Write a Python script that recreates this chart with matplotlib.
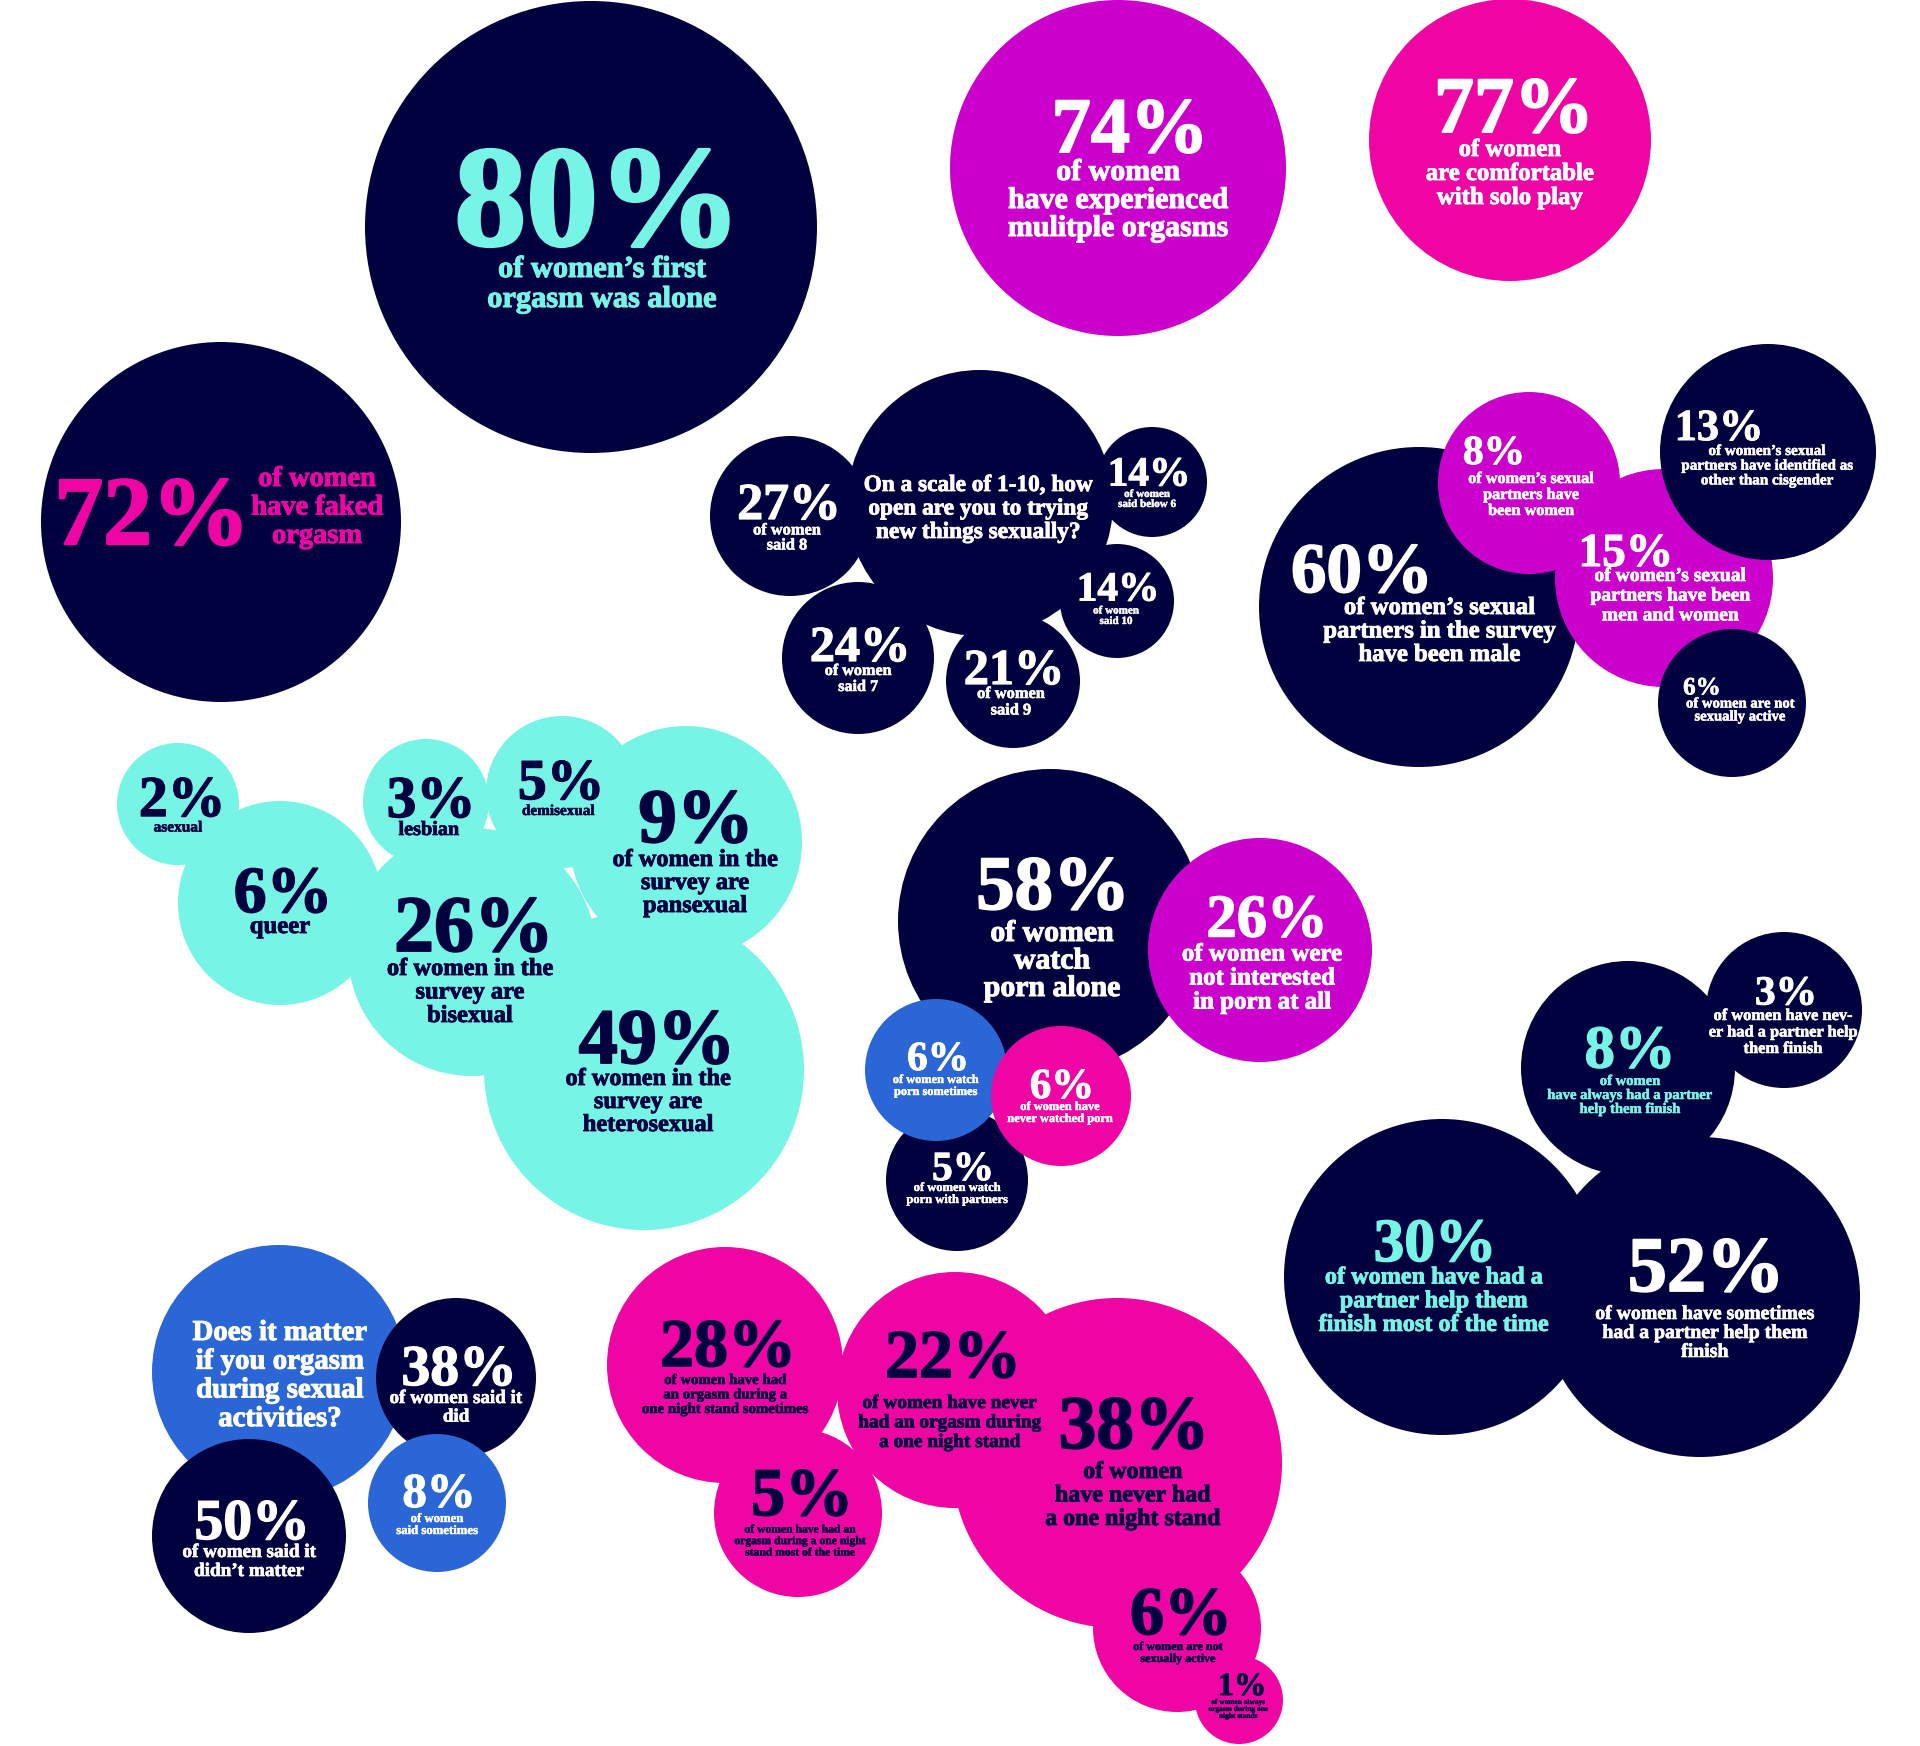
import matplotlib
matplotlib.use("Agg")
import matplotlib.pyplot as plt
import matplotlib.patheffects as pe
from matplotlib.patches import Circle

# ---------------- DATA ----------------
values = [
    "80%", "74%", "77%", "72%",
    "", "27%", "14%", "14%", "24%", "21%",
    "60%", "8%", "15%", "13%", "6%",
    "2%", "6%", "3%", "5%", "9%", "26%", "49%",
    "58%", "26%", "5%", "6%", "6%",
    "3%", "8%", "30%", "52%",
    "", "38%", "8%", "50%",
    "28%", "22%", "38%", "5%", "6%", "1%",
]

labels = [
    "of women\u2019s first\norgasm was alone",
    "of women\nhave experienced\nmulitple orgasms",
    "of women\nare comfortable\nwith solo play",
    "of women\nhave faked\norgasm",
    "On a scale of 1-10, how\nopen are you to trying\nnew things sexually?",
    "of women\nsaid 8",
    "of women\nsaid below 6",
    "of women\nsaid 10",
    "of women\nsaid 7",
    "of women\nsaid 9",
    "of women\u2019s sexual\npartners in the survey\nhave been male",
    "of women\u2019s sexual\npartners have\nbeen women",
    "of women\u2019s sexual\npartners have been\nmen and women",
    "of women\u2019s sexual\npartners have identified as\nother than cisgender",
    "of women are not\nsexually active",
    "asexual",
    "queer",
    "lesbian",
    "demisexual",
    "of women in the\nsurvey are\npansexual",
    "of women in the\nsurvey are\nbisexual",
    "of women in the\nsurvey are\nheterosexual",
    "of women\nwatch\nporn alone",
    "of women were\nnot interested\nin porn at all",
    "of women watch\nporn with partners",
    "of women watch\nporn sometimes",
    "of women have\nnever watched porn",
    "of women have nev-\ner had a partner help\nthem finish",
    "of women\nhave always had a partner\nhelp them finish",
    "of women have had a\npartner help them\nfinish most of the time",
    "of women have sometimes\nhad a partner help them\nfinish",
    "Does it matter\nif you orgasm\nduring sexual\nactivities?",
    "of women said it\ndid",
    "of women\nsaid sometimes",
    "of women said it\ndidn\u2019t matter",
    "of women have had\nan orgasm during a\none night stand sometimes",
    "of women have never\nhad an orgasm during\na one night stand",
    "of women\nhave never had\na one night stand",
    "of women have had an\norgasm during a one night\nstand most of the time",
    "of women are not\nsexually active",
    "of women always\norgasm during one\nnight stands",
]

# ---------------- COLOURS ----------------
NAVY = "#01013f"
CYAN = "#76f5e6"
MAGENTA = "#cc00cc"
PINK = "#ee05a3"
BLUE = "#2a66d6"
WHITE = "#ffffff"

fills = [
    NAVY, MAGENTA, PINK, NAVY,
    NAVY, NAVY, NAVY, NAVY, NAVY, NAVY,
    NAVY, MAGENTA, MAGENTA, NAVY, NAVY,
    CYAN, CYAN, CYAN, CYAN, CYAN, CYAN, CYAN,
    NAVY, MAGENTA, NAVY, BLUE, PINK,
    NAVY, NAVY, NAVY, NAVY,
    BLUE, NAVY, BLUE, NAVY,
    PINK, PINK, PINK, PINK, PINK, PINK,
]
inks = [
    CYAN, WHITE, WHITE, PINK,
    WHITE, WHITE, WHITE, WHITE, WHITE, WHITE,
    WHITE, WHITE, WHITE, WHITE, WHITE,
    NAVY, NAVY, NAVY, NAVY, NAVY, NAVY, NAVY,
    WHITE, WHITE, WHITE, WHITE, WHITE,
    WHITE, CYAN, CYAN, WHITE,
    WHITE, WHITE, WHITE, WHITE,
    NAVY, NAVY, NAVY, NAVY, NAVY, NAVY,
]

# ---------------- LAYOUT (pixels, y down) ----------------
# circle x, y, r | number x, baseline, digit height | label x, first baseline, line step, widest line
layout = [
    (591, 227, 226, 598, 245, 97, 602, 277, 30, 230),
    (1118, 168, 168, 1130, 152, 53, 1118, 180, 28, 222),
    (1510, 140, 141, 1514, 132, 54, 1510, 156, 24, 169),
    (221, 522, 180, 152, 544, 66, 317, 486, 28.5, 133),
    (980, 503, 133, 0, 0, 0, 978, 491, 23.5, 229),
    (790, 516, 80, 789, 519, 35, 787, 534.5, 15, 68),
    (1152, 482, 55, 1149, 485.5, 28, 1147, 497, 10, 58),
    (1117, 601, 57, 1118, 600.5, 28, 1116, 613.5, 10.5, 46),
    (858, 658, 76, 860, 661, 34, 858, 675, 16, 67),
    (1013, 681, 67, 1014, 684, 34, 1011, 698, 16.5, 68),
    (1419, 607, 160, 1362, 592, 48, 1439, 614, 23.5, 234),
    (1529, 483, 91, 1494, 464, 28, 1531, 483, 16, 126),
    (1664, 578, 109, 1626, 566, 32, 1670, 581, 19.7, 161),
    (1768, 452, 108, 1719, 440, 30, 1767, 455, 14.7, 173),
    (1732, 703, 74, 1702, 694.5, 17, 1740, 707.5, 13, 109),
    (178, 804, 61, 182, 816, 39, 178, 831.5, 0, 49),
    (280, 903, 102, 283, 912, 44.5, 280, 933, 0, 61),
    (426, 802, 63, 431, 817, 40, 429, 835, 0, 61),
    (562, 792, 76, 561, 799, 39, 558, 815, 0, 73),
    (686, 842, 116, 696, 842, 52, 695, 866, 23, 166),
    (472, 952, 124, 474, 951, 54, 470, 975, 23.5, 167),
    (644, 1070, 160, 657, 1063, 53, 648, 1085, 23, 166),
    (1050, 921, 152, 1053, 909, 52, 1052, 941, 27.5, 137),
    (1260, 950, 112, 1267, 936.5, 41, 1262, 960.6, 24, 161),
    (957, 1180, 71, 963, 1180, 28, 957, 1191, 12, 102),
    (936, 1070, 71, 938, 1070, 28, 936, 1083, 12, 86),
    (1061, 1096, 70, 1062, 1098, 29, 1060, 1110, 12, 106),
    (1784, 1010, 78, 1786, 1004.5, 28, 1783, 1020, 16.5, 150),
    (1628, 1068, 107, 1630, 1067.5, 41, 1630, 1085, 14, 166),
    (1442, 1277, 158, 1435, 1261, 41.5, 1434, 1283.5, 23.7, 231),
    (1700, 1297, 160, 1706, 1291, 53, 1705, 1319, 19, 220),
    (279, 1372, 127, 0, 0, 0, 280, 1340, 28.7, 175),
    (456, 1378, 80, 459, 1385, 39, 456, 1403, 18.6, 133),
    (437, 1503, 69, 439, 1507, 33, 437, 1522, 12, 82),
    (249, 1536, 97, 252, 1539, 39, 249, 1557, 19, 134),
    (725, 1365, 118, 728, 1366, 46, 725, 1384, 14.5, 167),
    (955, 1390, 118, 953, 1377, 46, 950, 1408, 19.5, 184),
    (1117, 1463, 165, 1134, 1448, 51, 1133, 1478, 23.5, 176),
    (798, 1513, 84, 802, 1515, 46, 800, 1532.6, 11.5, 132),
    (1177, 1628, 84, 1181, 1634, 46, 1178, 1650, 12, 90),
    (1239, 1700, 44, 1242, 1695, 22, 1238, 1704, 7, 60),
]

W, H = 1920, 1746
DPI = 100
PT = 72 / DPI          # points per pixel
DIGIT = 0.676          # digit height of Liberation Serif, in em
FONT = "Liberation Serif"

fig = plt.figure(figsize=(W / DPI, H / DPI), dpi=DPI, facecolor="white")
ax = fig.add_axes([0, 0, 1, 1])
ax.set_xlim(0, W)
ax.set_ylim(H, 0)
ax.axis("off")
renderer = fig.canvas.get_renderer()


def widest(lines):
    best = 0
    for line in lines:
        t = ax.text(0, 0, line, fontsize=10, fontweight="bold", family=FONT)
        best = max(best, t.get_window_extent(renderer=renderer).width)
        t.remove()
    return best


def heavy(ink, width):
    # a thin stroke in the text colour, to get closer to the heavy display face
    return [pe.withStroke(linewidth=width, foreground=ink)]


for i, (val, lab) in enumerate(zip(values, labels)):
    cx, cy, r, nx, nb, nh, lx, lb, step, lw = layout[i]
    ax.add_patch(Circle((cx, cy), r, facecolor=fills[i], edgecolor="none", zorder=i + 1))

    if val:
        ax.text(nx, nb, val, ha="center", va="baseline", color=inks[i],
                fontsize=nh / DIGIT * PT, fontweight="bold", family=FONT, zorder=200,
                path_effects=heavy(inks[i], nh * 0.035 * PT))

    # label lines: font fitted to the widest line, baselines stepped as in the reference
    lines = lab.split("\n")
    size = 10 * lw / widest(lines)
    for k, line in enumerate(lines):
        ax.text(lx, lb + k * step, line, ha="center", va="baseline", color=inks[i],
                fontsize=size, fontweight="bold", family=FONT, zorder=200,
                path_effects=heavy(inks[i], size * 0.035))

fig.savefig("out.png", dpi=DPI, facecolor="white")
